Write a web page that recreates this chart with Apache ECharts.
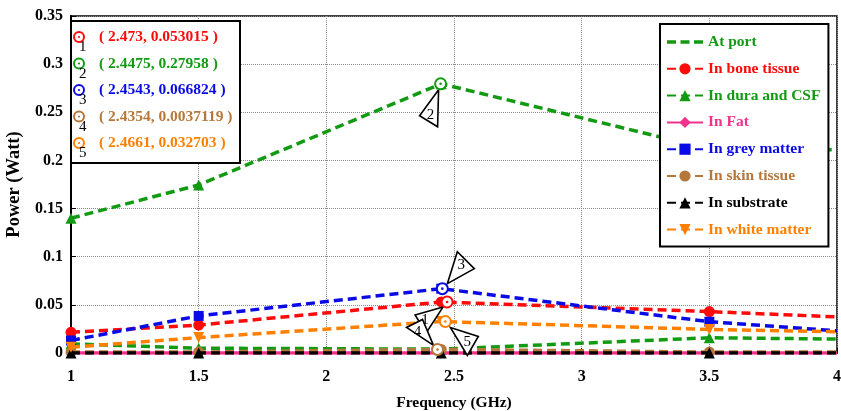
<!DOCTYPE html>
<html><head><meta charset="utf-8">
<script src="https://cdn.jsdelivr.net/npm/echarts@6/dist/echarts.min.js"></script>
<style>html,body{margin:0;padding:0;background:#fff}#c{width:841px;height:411px}</style>
</head><body><div id="c"></div>
<script>
// ---- data ----
const freqs = [1, 1.5, 2.45, 3.5, 4];
const atPort = [0.140, 0.1745, 0.2796, 0.212, 0.211];
const bone = [0.0215, 0.029, 0.053, 0.043, 0.0375];
const dura = [0.0095, 0.005, 0.004, 0.0158, 0.0145];
const fat = [0, 0, 0, 0, 0];
const grey = [0.013, 0.0385, 0.0668, 0.0325, 0.023];
const skin = [0.001, 0.001, 0.0037, 0.001, 0.001];
const substrate = [0, 0, 0, 0, 0];
const white = [0.006, 0.016, 0.0327, 0.0245, 0.022];
const seriesNames = ['At port', 'In bone tissue', 'In dura and CSF', 'In Fat', 'In grey matter', 'In skin tissue', 'In substrate', 'In white matter'];
const seriesValues = [atPort, bone, dura, fat, grey, skin, substrate, white];
const cursorFreq = [2.473, 2.4475, 2.4543, 2.4354, 2.4661];
const cursorPower = [0.053015, 0.27958, 0.066824, 0.0037119, 0.032703];
const cursorLabels = ['1', '2', '3', '4', '5'];
const xTitle = 'Frequency (GHz)';
const yTitle = 'Power (Watt)';

// ---- styles ----
const GREEN = '#139a13', RED = '#ff0a0a', PINK = '#f0328c', BLUE = '#0a0ae6', BROWN = '#b5773b', BLACK = '#000000', ORANGE = '#ff8000';
const seriesStyles = [
  {color: GREEN, symbol: 'triangle', dash: true},
  {color: RED, symbol: 'circle', dash: true},
  {color: GREEN, symbol: 'triangle', dash: true},
  {color: PINK, symbol: 'diamond', dash: false},
  {color: BLUE, symbol: 'rect', dash: true},
  {color: BROWN, symbol: 'circle', dash: true},
  {color: BLACK, symbol: 'triangle', dash: true},
  {color: ORANGE, symbol: 'triangle', rotate: 180, dash: true}
];
const cursorColors = [RED, GREEN, BLUE, BROWN, ORANGE];
const callouts = [
  {tri: [[-4, 5], [-32, 13], [-21, 31]], txt: [-22, 18]},
  {tri: [[-2, 6], [-21, 32], [-3, 43]], txt: [-10, 31]},
  {tri: [[5, -5], [15, -37], [32, -20]], txt: [19, -24]},
  {tri: [[-4, -4], [-31, -22], [-15, -30]], txt: [-20, -17]},
  {tri: [[5, 6], [33, 15], [22, 34]], txt: [22, 21]}
];
const SERIF = '"Liberation Serif", "DejaVu Serif", serif';

const series = seriesNames.map((name, k) => {
  const st = seriesStyles[k];
  return {
    name: name,
    type: 'line',
    z: 2 + k * 0.01,
    data: freqs.map((f, i) => {
      const item = {value: [f, seriesValues[k][i]]};
      if (i === freqs.length - 1) item.symbol = 'none';
      return item;
    }),
    symbol: st.symbol,
    symbolRotate: st.rotate || 0,
    symbolSize: st.symbol === 'rect' ? 10 : 11,
    showAllSymbol: true,
    color: st.color,
    itemStyle: {color: st.color},
    lineStyle: {color: st.color, width: 3.5, type: st.dash ? [9, 5] : 'solid', cap: 'butt'},
    emphasis: {disabled: true},
    animation: false
  };
});

series.push({
  name: 'cursors',
  type: 'custom',
  coordinateSystem: 'cartesian2d',
  z: 20,
  clip: false,
  animation: false,
  data: cursorFreq.map((f, i) => [f, cursorPower[i]]),
  renderItem: function (params, api) {
    const i = params.dataIndex;
    const p = api.coord([api.value(0), api.value(1)]);
    const c = callouts[i];
    const col = cursorColors[i];
    return {
      type: 'group',
      children: [
        {type: 'polygon', shape: {points: c.tri.map(o => [p[0] + o[0], p[1] + o[1]])}, style: {fill: '#fff', stroke: '#000', lineWidth: 1.6}},
        {type: 'text', x: p[0] + c.txt[0], y: p[1] + c.txt[1], style: {text: cursorLabels[i], fill: '#000', font: '15px ' + SERIF, align: 'center', verticalAlign: 'middle'}},
        {type: 'circle', shape: {cx: p[0], cy: p[1], r: 5.5}, style: {fill: '#fff', stroke: col, lineWidth: 2}},
        {type: 'circle', shape: {cx: p[0], cy: p[1], r: 1.3}, style: {fill: col}}
      ]
    };
  }
});

// top-left datatip box
const graphic = [{type: 'rect', z: 100, shape: {x: 71, y: 21, width: 169, height: 142}, style: {fill: '#fff', stroke: '#000', lineWidth: 2}}];
cursorFreq.forEach((f, i) => {
  const y = 37 + i * 26.5;
  const col = cursorColors[i];
  graphic.push({type: 'circle', z: 101, shape: {cx: 79, cy: y, r: 5}, style: {fill: '#fff', stroke: col, lineWidth: 2}});
  graphic.push({type: 'circle', z: 101, shape: {cx: 79, cy: y, r: 1.1}, style: {fill: col}});
  graphic.push({type: 'text', z: 101, x: 79, y: y + 3, style: {text: cursorLabels[i], fill: '#000', font: '15px ' + SERIF, verticalAlign: 'top'}});
  graphic.push({type: 'text', z: 101, x: 99, y: y, style: {text: '( ' + f + ', ' + cursorPower[i] + ' )', fill: col, font: 'bold 15.5px ' + SERIF, verticalAlign: 'middle'}});
});

const legendData = seriesNames.map((name, k) => {
  const d = {name: name, textStyle: {color: seriesStyles[k].color}};
  if (k === 0) d.icon = 'path://M0 0h9v3.5H0z M13.5 0h9v3.5h-9z M27 0h9v3.5h-9z';
  return d;
});

const chart = echarts.init(document.getElementById('c'), null, {renderer: 'canvas'});
chart.setOption({
  animation: false,
  backgroundColor: '#fff',
  grid: {left: 71, right: 4, top: 16, bottom: 58, show: true, borderColor: '#000', borderWidth: 1.5, backgroundColor: 'transparent', containLabel: false, outerBoundsMode: 'none'},
  legend: {
    data: legendData,
    orient: 'vertical',
    left: 660, top: 24,
    padding: [10, 8, 9, 6],
    itemWidth: 36, itemHeight: 14, itemGap: 10.8,
    backgroundColor: '#fff', borderColor: '#000', borderWidth: 2,
    selectedMode: false,
    textStyle: {fontFamily: SERIF, fontWeight: 'bold', fontSize: 15.5}
  },
  xAxis: {
    type: 'value', min: 1, max: 4, interval: 0.5,
    name: xTitle, nameLocation: 'middle', nameGap: 42,
    nameTextStyle: {fontFamily: SERIF, fontWeight: 'bold', fontSize: 15.5, color: '#000'},
    axisLine: {show: true, lineStyle: {color: '#000', width: 2}},
    axisTick: {show: true, inside: true, length: 5, lineStyle: {color: '#000'}},
    axisLabel: {fontFamily: SERIF, fontWeight: 'bold', fontSize: 16, color: '#000', margin: 16},
    splitLine: {show: true, lineStyle: {color: '#8a8a8a', type: 'dotted', width: 1}}
  },
  yAxis: {
    type: 'value', min: 0, max: 0.35, interval: 0.05,
    name: yTitle, nameLocation: 'middle', nameGap: 46,
    nameTextStyle: {fontFamily: SERIF, fontWeight: 'bold', fontSize: 18.5, color: '#000'},
    axisLine: {show: true, lineStyle: {color: '#000', width: 2}},
    axisTick: {show: true, inside: true, length: 5, lineStyle: {color: '#000'}},
    axisLabel: {fontFamily: SERIF, fontWeight: 'bold', fontSize: 16, color: '#000', margin: 8},
    splitLine: {show: true, lineStyle: {color: '#8a8a8a', type: 'dotted', width: 1}}
  },
  graphic: graphic,
  series: series
});
</script>
</body></html>
